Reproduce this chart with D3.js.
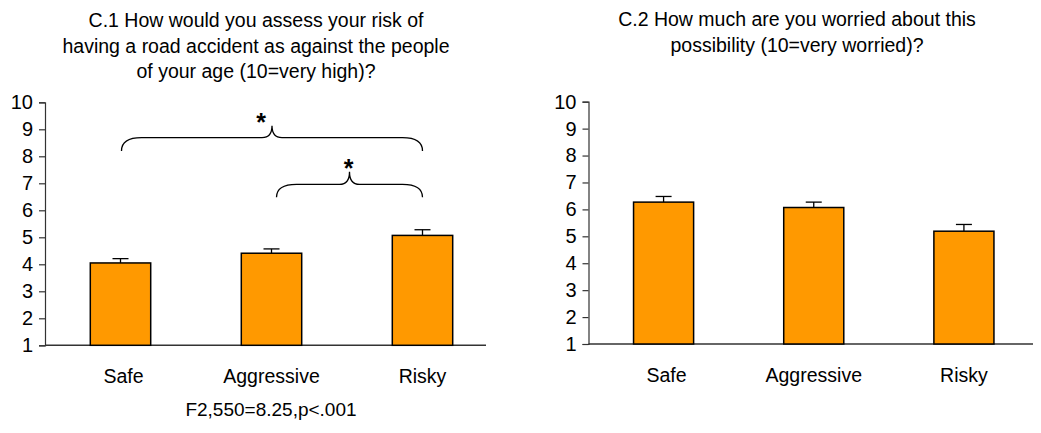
<!DOCTYPE html>
<html>
<head>
<meta charset="utf-8">
<script src="https://cdn.jsdelivr.net/npm/d3@7"></script>
<style>
  html, body { margin: 0; padding: 0; background: #fff; }
  svg { display: block; font-family: "Liberation Sans", Arial, sans-serif; }
</style>
</head>
<body>
<svg id="chart" width="1041" height="433"></svg>
<script>
// ---- data ----
const categories = ["Safe", "Aggressive", "Risky"];
const riskValues = [4.05, 4.41, 5.07];
const riskErrors = [0.16, 0.16, 0.21];
const worryValues = [6.27, 6.07, 5.19];
const worryErrors = [0.21, 0.20, 0.25];
const yTicks = [1, 2, 3, 4, 5, 6, 7, 8, 9, 10];
const title1 = ["C.1 How would you assess your risk of", "having a road accident as against the people", "of your age (10=very high)?"];
const title2 = ["C.2 How much are you worried about this", "possibility (10=very worried)?"];
const statText = "F2,550=8.25,p<.001";
// significance comparisons for chart 1: [from, to, endValue, lineValue, peakValue]
const comparisons = [
  { from: "Safe", to: "Risky", end: 8.2, line: 8.69, peak: 9.13, label: "*" },
  { from: "Aggressive", to: "Risky", end: 6.48, line: 6.96, peak: 7.43, label: "*" }
];

const svg = d3.select("#chart");

function drawPanel(opts) {
  const g = svg.append("g");
  const x = d3.scaleBand().domain(categories).range([opts.left, opts.right])
    .paddingInner(0.6).paddingOuter(0.3);
  const y = d3.scaleLinear().domain([1, 10]).range([opts.bottom, opts.top]);

  // title
  const t = g.append("text").attr("text-anchor", "middle").attr("font-size", 19.5).attr("fill", "#000");
  opts.title.forEach((line, i) => {
    t.append("tspan").attr("x", opts.titleX).attr("y", opts.titleY + i * 25.5).text(line);
  });

  // y axis
  const yAxis = d3.axisLeft(y).tickValues(yTicks).tickSize(6).tickPadding(6).tickFormat(d3.format("d"));
  const ya = g.append("g").attr("transform", `translate(${opts.left},0)`).call(yAxis);
  ya.select(".domain").attr("stroke", "#333").attr("stroke-width", 1.2);
  ya.selectAll(".tick line").attr("stroke", "#333").attr("stroke-width", 1.2);
  ya.selectAll(".tick text").attr("font-size", 20).attr("fill", "#000")
    .attr("font-family", "Liberation Sans, Arial, sans-serif");

  // baseline
  g.append("line")
    .attr("x1", opts.left).attr("x2", opts.baseEnd)
    .attr("y1", y(1)).attr("y2", y(1))
    .attr("stroke", "#333").attr("stroke-width", 1.4);

  // bars
  const data = categories.map((c, i) => ({ c, v: opts.values[i], e: opts.errors[i] }));
  // error bars
  g.selectAll(".err").data(data).enter().append("line")
    .attr("x1", d => x(d.c) + x.bandwidth() / 2).attr("x2", d => x(d.c) + x.bandwidth() / 2)
    .attr("y1", d => y(d.v)).attr("y2", d => y(d.v + d.e))
    .attr("stroke", "#000").attr("stroke-width", 1.3);
  g.selectAll(".cap").data(data).enter().append("line")
    .attr("x1", d => x(d.c) + x.bandwidth() / 2 - 8).attr("x2", d => x(d.c) + x.bandwidth() / 2 + 8)
    .attr("y1", d => y(d.v + d.e)).attr("y2", d => y(d.v + d.e))
    .attr("stroke", "#000").attr("stroke-width", 1.3);
  g.selectAll(".bar").data(data).enter().append("rect")
    .attr("x", d => x(d.c)).attr("width", x.bandwidth())
    .attr("y", d => y(d.v)).attr("height", d => y(1) - y(d.v))
    .attr("fill", "#FF9900").attr("stroke", "#000").attr("stroke-width", 1.5);

  // x labels
  g.selectAll(".xl").data(categories).enter().append("text")
    .attr("x", d => x(d) + x.bandwidth() / 2 + (d === "Safe" ? 3 : 0))
    .attr("y", opts.bottom + 38)
    .attr("text-anchor", "middle").attr("font-size", 19.5).attr("fill", "#000")
    .text(d => d);

  return { g, x, y };
}

const p1 = drawPanel({
  left: 45, right: 498, top: 102.3, bottom: 345.3, baseEnd: 486,
  values: riskValues, errors: riskErrors, title: title1, titleX: 256, titleY: 27
});
const p2 = drawPanel({
  left: 588.5, right: 1039, top: 101.7, bottom: 344, baseEnd: 1033,
  values: worryValues, errors: worryErrors, title: title2, titleX: 797, titleY: 26
});

// braces on panel 1
(function () {
  const { g, x, y } = p1;
  const cx = c => x(c) + x.bandwidth() / 2;
  comparisons.forEach(cmp => {
    const x1 = cx(cmp.from) + (cmp.from === "Aggressive" ? 5 : 1);
    const x2 = cx(cmp.to);
    const xm = (x1 + x2) / 2;
    const yE = y(cmp.end), yH = y(cmp.line), yP = y(cmp.peak);
    const r = 20, r2 = 10;
    const path = d3.path();
    path.moveTo(x1, yE);
    path.quadraticCurveTo(x1, yH, x1 + r, yH);
    path.lineTo(xm - r2, yH);
    path.quadraticCurveTo(xm, yH, xm, yP);
    path.quadraticCurveTo(xm, yH, xm + r2, yH);
    path.lineTo(x2 - r, yH);
    path.quadraticCurveTo(x2, yH, x2, yE);
    g.append("path").attr("d", path.toString())
      .attr("fill", "none").attr("stroke", "#000").attr("stroke-width", 1.3);
    g.append("text")
      .attr("x", xm - (cmp.from === "Safe" ? 11 : 1)).attr("y", yP + 5)
      .attr("text-anchor", "middle").attr("font-size", 25).attr("font-weight", "bold")
      .text(cmp.label);
  });
  g.append("text").attr("x", 271).attr("y", 416).attr("text-anchor", "middle")
    .attr("font-size", 19).attr("fill", "#000").text(statText);
})();
</script>
</body>
</html>
